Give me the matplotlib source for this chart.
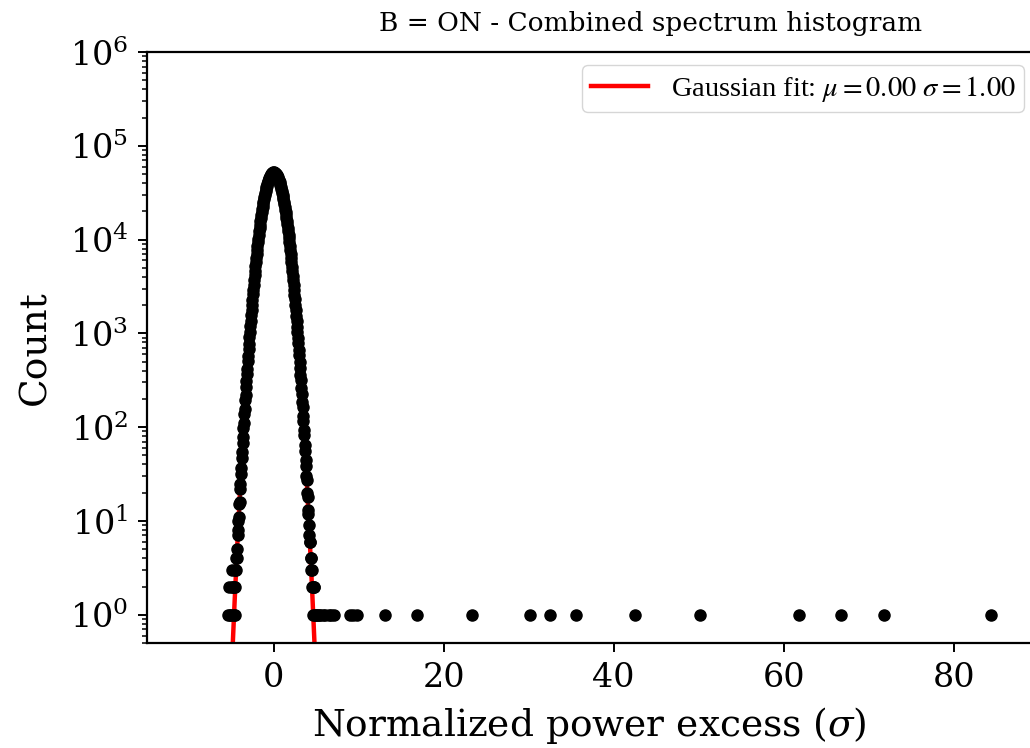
import numpy as np
import matplotlib
matplotlib.use("Agg")
import matplotlib.pyplot as plt
from matplotlib.ticker import LogLocator, NullFormatter

# Histogram bin centres of the core distribution (sigma units) and their counts
core_x = np.round(np.arange(-4.70, 4.7001, 0.05), 2)
core_counts = [
    1, 2, 1, 3, 2, 4, 3, 5, 4, 7, 8, 10, 11, 15, 16, 22, 25, 32, 37, 47,
    54, 68, 79, 97, 112, 137, 158, 193, 222, 268, 307, 368, 421, 503, 572, 677, 769, 904, 1025, 1194,
    1349, 1562, 1760, 2026, 2271, 2601, 2905, 3304, 3676, 4155, 4603, 5176, 5712, 6384, 7011, 7795, 8523, 9421, 10256, 11275,
    12224, 13362, 14421, 15677, 16838, 18211, 19476, 20946, 22293, 23851, 25262, 26889, 28352, 30012, 31491, 33160, 34630, 36281, 37710, 39298,
    40651, 42140, 43382, 44745, 45842, 47036, 47953, 48954, 49664, 50442, 50925, 51460, 51696, 51976,
    52000,
    51893, 51784, 51375, 51014, 50357, 49755, 48867, 48045, 46949, 45935, 44656, 43476, 42051, 40745, 39207, 37805, 36189, 34725, 33069, 31586,
    29921, 28446, 26797, 25355, 23762, 22386, 20859, 19564, 18131, 16923, 15602, 14498, 13291, 12297, 11209, 10324, 9361, 8581, 7741, 7064,
    6337, 5755, 5134, 4645, 4118, 3709, 3270, 2934, 2571, 2298, 2002, 1782, 1543, 1367, 1176, 1040, 889, 782, 664, 583,
    492, 430, 360, 315, 260, 228, 187, 164, 132, 116, 93, 82, 65, 56, 45, 39, 30, 27, 20, 18,
    13, 12, 9, 7, 6, 6, 4, 4, 3, 2, 3, 2, 1, 2,
]

# Sparse tail bins just outside the core
tail_x = [-5.35, -5.25, -5.15, -5.05, -4.95, -4.85, -4.75,
          4.75, 4.85, 4.95, 5.10, 5.30, 5.50, 5.80, 6.10, 6.50, 6.80, 7.10, 9.00, 9.35, 9.80]
tail_counts = [1, 2, 1, 1, 2, 3, 2,
               2, 1, 1, 1, 1, 1, 1, 1, 1, 1, 1, 1, 1, 1]

# Isolated high-significance bins
outlier_x = [13.1, 16.9, 23.3, 30.2, 32.5, 35.6, 42.5, 50.2, 61.8, 66.8, 71.8, 84.35]
outlier_counts = [1] * len(outlier_x)

# Axis ticks
x_ticks = [0, 20, 40, 60, 80]
y_ticks = [1e0, 1e1, 1e2, 1e3, 1e4, 1e5, 1e6]

# Gaussian fit parameters
fit_amp = 52000.0
fit_mu = 0.00
fit_sigma = 1.00

plt.rcParams["font.family"] = "DejaVu Serif"
plt.rcParams["mathtext.fontset"] = "dejavuserif"

fig = plt.figure(figsize=(10.30, 7.48), dpi=100)
ax = fig.add_axes([0.1427, 0.1404, 0.8583, 0.7901])

xf = np.linspace(-5.6, 5.6, 800)
yf = fit_amp * np.exp(-0.5 * ((xf - fit_mu) / fit_sigma) ** 2)
ax.plot(xf, yf, color="red", lw=3.2, zorder=2,
        label=r"Gaussian fit: $\mu=%.2f$ $\sigma=%.2f$" % (fit_mu, fit_sigma))

all_x = np.concatenate([core_x, tail_x, outlier_x])
all_c = np.concatenate([core_counts, tail_counts, outlier_counts])
ax.plot(all_x, all_c, "o", color="black", ms=8, mec="black", zorder=3)

ax.set_yscale("log")
ax.set_ylim(0.5, 1e6)
ax.set_xlim(-14.9, 89.1)
ax.set_xticks(x_ticks)
ax.set_yticks(y_ticks)
ax.yaxis.set_minor_locator(LogLocator(base=10, subs=np.arange(2, 10), numticks=20))
ax.yaxis.set_minor_formatter(NullFormatter())

ax.tick_params(axis="both", which="major", labelsize=24, length=6.5, width=1.4, pad=7)
ax.tick_params(axis="both", which="minor", length=3.5, width=1.1)
for sp in ax.spines.values():
    sp.set_linewidth(1.6)

ax.set_xlabel(r"Normalized power excess ($\sigma$)", fontsize=27, labelpad=8)
ax.set_ylabel("Count", fontsize=27, labelpad=12)
ax.set_title("B = ON - Combined spectrum histogram", fontsize=19, pad=15, x=0.570)

leg = ax.legend(loc="upper right", prop={"family": "Liberation Serif", "size": 20.5},
                handlelength=2.0, borderpad=0.3, borderaxespad=0.0,
                bbox_to_anchor=(0.992, 0.978))
for t in leg.get_texts():
    t.set_math_fontfamily("stix")

fig.savefig("out.png", dpi=100)
